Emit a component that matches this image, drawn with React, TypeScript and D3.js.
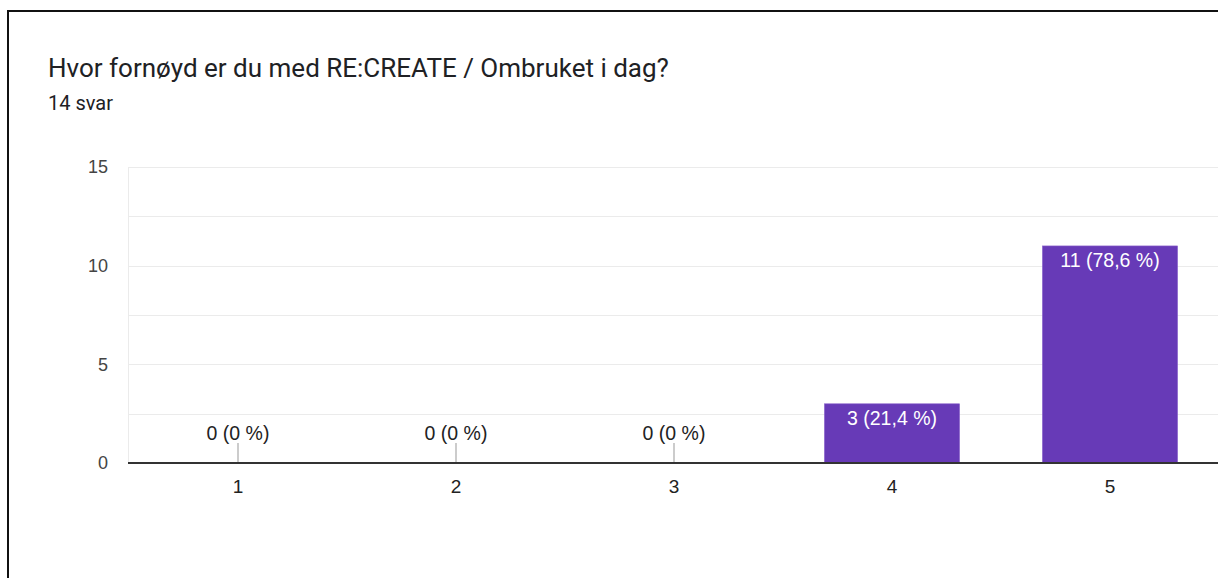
import React from "react";
import * as d3 from "d3";

const categories = ["1", "2", "3", "4", "5"];
const counts = [0, 0, 0, 3, 11];
const percentLabels = ["0 %", "0 %", "0 %", "21,4 %", "78,6 %"];
const yTicks = [0, 5, 10, 15];
const gridValues = [2.5, 5, 7.5, 10, 12.5, 15];
const title = "Hvor fornøyd er du med RE:CREATE / Ombruket i dag?";
const subtitle = "14 svar";

const W = 1218;
const H = 578;
const titleFont = "Roboto, Arial, sans-serif";
const font = "'Liberation Sans', Arial, sans-serif";

export default function App() {
  const left = 128;
  const right = 1218;
  const top = 167;
  const bottom = 463;
  const x = d3.scaleBand<string>().domain(categories).range([left + 1, right + 1]).paddingInner(0.38).paddingOuter(0.19);
  const y = d3.scaleLinear().domain([0, 15]).range([bottom, top]);
  return (
    <svg width={W} height={H} style={{ position: "absolute", left: 0, top: 0, background: "#fff" }}>
      <rect x={0} y={0} width={W} height={H} fill="#fff" />
      <rect x={8} y={11} width={1240} height={600} fill="none" stroke="#111" strokeWidth={2} />
      <text x={48} y={77} fontFamily={titleFont} fontSize={26} fill="#202124">{title}</text>
      <text x={48} y={110} fontFamily={titleFont} fontSize={20} fill="#202124">{subtitle}</text>
      <line x1={left + 0.5} x2={left + 0.5} y1={top} y2={bottom} stroke="#ebebeb" />
      {gridValues.map((v) => (
        <line key={v} x1={left} x2={right} y1={Math.round(y(v)) + 0.5} y2={Math.round(y(v)) + 0.5} stroke="#ebebeb" />
      ))}
      {yTicks.map((v) => (
        <text key={v} x={108} y={y(v)} dy="0.36em" textAnchor="end" fontFamily={font} fontSize={18} fill="#444">{v}</text>
      ))}
      {categories.map((c, i) => {
        const cx = (x(c) as number) + x.bandwidth() / 2;
        const v = counts[i];
        const label = `${v} (${percentLabels[i]})`;
        if (v === 0) {
          return (
            <g key={c}>
              <line x1={cx} x2={cx} y1={bottom} y2={bottom - 20} stroke="#999" strokeWidth={1} />
              <text x={cx} y={bottom - 23} textAnchor="middle" fontFamily={font} fontSize={19.5} fill="#222">{label}</text>
            </g>
          );
        }
        return (
          <g key={c}>
            <rect x={x(c)} y={y(v)} width={x.bandwidth()} height={bottom - y(v)} fill="#673ab7" stroke="#8a63cc" strokeWidth={0.6} />
            <text x={cx} y={y(v) + 21} textAnchor="middle" fontFamily={font} fontSize={19.5} fill="#fff">{label}</text>
          </g>
        );
      })}
      <line x1={left} x2={right} y1={bottom} y2={bottom} stroke="#333" strokeWidth={2} />
      {categories.map((c) => (
        <text key={c} x={(x(c) as number) + x.bandwidth() / 2} y={bottom + 30} textAnchor="middle" fontFamily={font} fontSize={19} fill="#222">{c}</text>
      ))}
    </svg>
  );
}
